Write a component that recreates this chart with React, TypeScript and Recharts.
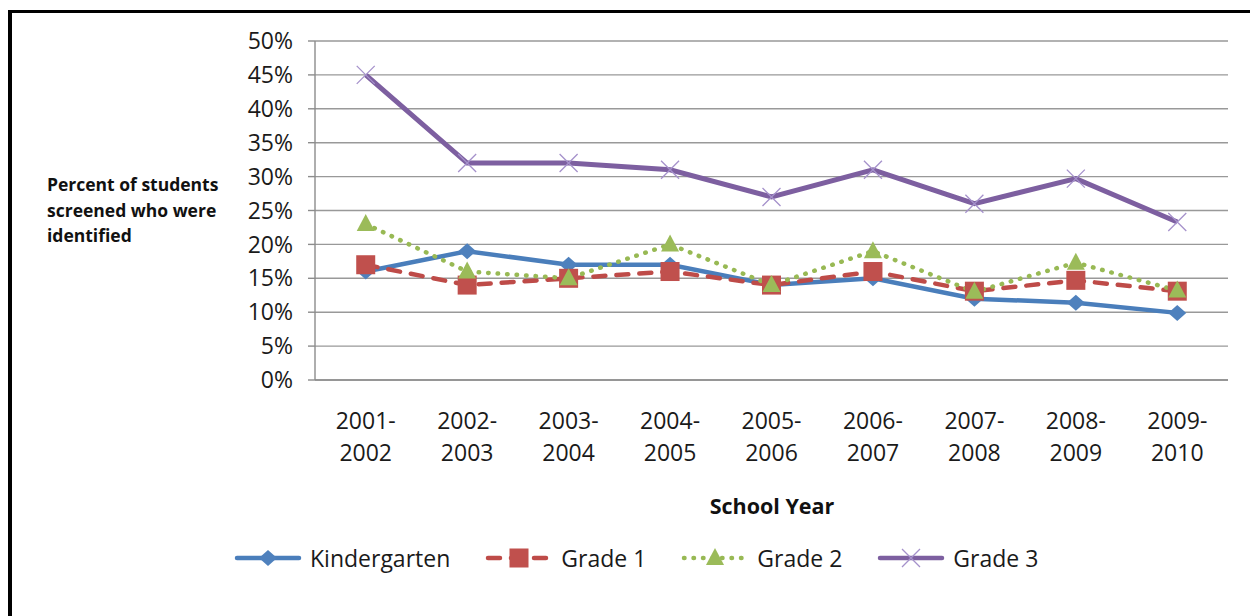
import { LineChart, Line, XAxis, YAxis, CartesianGrid } from 'recharts';

const years = ['2001-2002', '2002-2003', '2003-2004', '2004-2005', '2005-2006', '2006-2007', '2007-2008', '2008-2009', '2009-2010'];
const kindergarten = [16, 19, 17, 17, 14, 15, 12, 11.4, 9.9];
const grade1 = [17, 14, 15, 16, 14, 16, 13.1, 14.7, 13.1];
const grade2 = [23, 16, 15, 20, 14, 19, 13, 17.3, 13.2];
const grade3 = [45, 32, 32, 31, 27, 31, 26, 29.7, 23.3];
const yTicks = [0, 5, 10, 15, 20, 25, 30, 35, 40, 45, 50];

const data = years.map((year, i) => ({
  x: i + 0.5,
  year,
  k: kindergarten[i],
  g1: grade1[i],
  g2: grade2[i],
  g3: grade3[i],
}));

const FONT = '"Open Sans", Arial, sans-serif';
const BLUE = '#4A7EBB';
const RED = '#BE4B48';
const GREEN = '#98B954';
const PURPLE = '#7D5FA0';

const Diamond = ({ cx, cy }: any) => (
  <path d={`M${cx},${cy - 8} L${cx + 9},${cy} L${cx},${cy + 8} L${cx - 9},${cy} Z`} fill="#4F81BD" />
);
const Square = ({ cx, cy }: any) => (
  <rect x={cx - 9.5} y={cy - 9.5} width={19} height={19} fill="#C0504D" />
);
const Triangle = ({ cx, cy }: any) => (
  <path d={`M${cx},${cy - 10} L${cx + 9},${cy + 7} L${cx - 9},${cy + 7} Z`} fill="#9BBB59" />
);
const Cross = ({ cx, cy }: any) => (
  <path d={`M${cx - 9},${cy - 9} L${cx + 9},${cy + 9} M${cx + 9},${cy - 9} L${cx - 9},${cy + 9}`} stroke="#A591CB" strokeWidth={1.3} fill="none" />
);

const YearTick = ({ x, y, payload }: any) => {
  const label = years[Math.floor(payload.value)] || '';
  const [a, b] = label.split('-');
  return (
    <text x={x} textAnchor="middle" fill="#1a1a1a" style={{ fontSize: 23, fontFamily: FONT }}>
      <tspan x={x} y={y + 41}>{a}-</tspan>
      <tspan x={x} y={y + 73}>{b}</tspan>
    </text>
  );
};

const legendItems = [
  { name: 'Kindergarten', color: BLUE, dash: undefined, shape: 'diamond' },
  { name: 'Grade 1', color: RED, dash: '12 11', shape: 'square' },
  { name: 'Grade 2', color: GREEN, dash: '0.5 9', shape: 'triangle' },
  { name: 'Grade 3', color: PURPLE, dash: undefined, shape: 'cross' },
];

const LegendIcon = ({ item }: any) => {
  const cx = 34, cy = 12;
  return (
    <svg width={68} height={24} style={{ display: 'block' }}>
      <line x1={3} y1={cy} x2={65} y2={cy} stroke={item.color} strokeWidth={4.5} strokeDasharray={item.dash} strokeLinecap="round" />
      {item.shape === 'diamond' && <Diamond cx={cx} cy={cy} />}
      {item.shape === 'square' && <Square cx={cx} cy={cy} />}
      {item.shape === 'triangle' && <Triangle cx={cx} cy={cy} />}
      {item.shape === 'cross' && <Cross cx={cx} cy={cy} />}
    </svg>
  );
};

export default function App() {
  return (
    <div style={{ position: 'absolute', left: 0, top: 0, width: 1250, height: 616, background: '#fff', overflow: 'hidden', fontFamily: FONT }}>
      {/* frame */}
      <div style={{ position: 'absolute', left: 8, top: 10, width: 1260, height: 640, borderTop: '3px solid #000', borderLeft: '4px solid #000' }} />

      <div style={{ position: 'absolute', left: 0, top: 0 }}>
        <LineChart width={1250} height={616} data={data} margin={{ top: 41, right: 22, bottom: 138, left: 235 }}>
          <CartesianGrid vertical={false} stroke="#999" strokeWidth={1.4} />
          <XAxis
            type="number"
            dataKey="x"
            domain={[0, 9]}
            ticks={[0, 1, 2, 3, 4, 5, 6, 7, 8, 9]}
            tick={false}
            tickSize={8}
            height={8}
            axisLine={{ stroke: '#8c8c8c', strokeWidth: 1.4 }}
            tickLine={{ stroke: '#8c8c8c', strokeWidth: 1.4 }}
          />
          <XAxis
            xAxisId="labels"
            type="number"
            dataKey="x"
            domain={[0, 9]}
            ticks={[0.5, 1.5, 2.5, 3.5, 4.5, 5.5, 6.5, 7.5, 8.5]}
            axisLine={false}
            tickLine={false}
            tickSize={0}
            tickMargin={0}
            height={90}
            tick={<YearTick />}
            interval={0}
          />
          <YAxis
            domain={[0, 50]}
            ticks={yTicks}
            width={80}
            tickSize={7}
            tickMargin={15}
            tickFormatter={(v: number) => `${v}%`}
            tick={{ fontSize: 23, fill: '#1a1a1a', fontFamily: FONT }}
            axisLine={{ stroke: '#8c8c8c', strokeWidth: 1.4 }}
            tickLine={{ stroke: '#8c8c8c', strokeWidth: 1.4 }}
            interval={0}
          />
          <Line dataKey="k" stroke={BLUE} strokeWidth={4.5} dot={<Diamond />} activeDot={false} isAnimationActive={false} />
          <Line dataKey="g1" stroke={RED} strokeWidth={4.5} strokeDasharray="12 11" strokeLinecap="round" dot={<Square />} activeDot={false} isAnimationActive={false} />
          <Line dataKey="g2" stroke={GREEN} strokeWidth={4.5} strokeDasharray="0.5 9" strokeLinecap="round" dot={<Triangle />} activeDot={false} isAnimationActive={false} />
          <Line dataKey="g3" stroke={PURPLE} strokeWidth={5} dot={<Cross />} activeDot={false} isAnimationActive={false} />
        </LineChart>
      </div>

      {/* y axis title */}
      <div style={{ position: 'absolute', left: 47, top: 172, fontSize: 17.5, fontWeight: 700, lineHeight: '25.5px', color: '#111' }}>
        Percent of students<br />screened who were<br />identified
      </div>

      {/* x axis title */}
      <div style={{ position: 'absolute', left: 672, width: 200, top: 491, textAlign: 'center', fontSize: 21.5, fontWeight: 700, color: '#111' }}>
        School Year
      </div>

      {/* legend */}
      <div style={{ position: 'absolute', left: 234, top: 543, display: 'flex', alignItems: 'center', gap: 35 }}>
        {legendItems.map((item) => (
          <div key={item.name} style={{ display: 'flex', alignItems: 'center', gap: 8 }}>
            <LegendIcon item={item} />
            <span style={{ fontSize: 23, color: '#1a1a1a', lineHeight: '30px' }}>{item.name}</span>
          </div>
        ))}
      </div>
    </div>
  );
}
